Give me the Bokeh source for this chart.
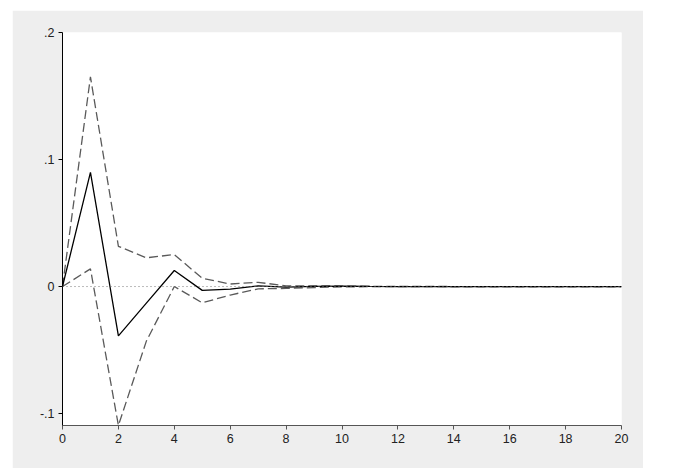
from bokeh.plotting import figure
from bokeh.models import FixedTicker, Span, Range1d
from bokeh.embed import file_html
from bokeh.resources import INLINE

steps = list(range(0, 21))
irf = [0.0, 0.0899, -0.0388, -0.0131, 0.0126, -0.0030, -0.0020, 0.0005, -0.0005, 0.0002,
       0.0003, 0.0001, 0.0, 0.0, 0.0, 0.0, 0.0, 0.0, 0.0, 0.0, 0.0]
upper = [0.0, 0.1650, 0.0317, 0.0226, 0.0252, 0.0065, 0.0020, 0.0033, 0.0006, 0.0005,
         0.0004, 0.0002, 0.0001, 0.0001, 0.0, 0.0, 0.0, 0.0, 0.0, 0.0, 0.0]
lower = [0.0, 0.0139, -0.1094, -0.0430, 0.0000, -0.0128, -0.0067, -0.0018, -0.0015, -0.0008,
         -0.0003, -0.0001, -0.0001, 0.0, 0.0, 0.0, 0.0, 0.0, 0.0, 0.0, 0.0]
y_ticks = [-0.1, 0.0, 0.1, 0.2]
y_tick_labels = {-0.1: "-.1", 0.0: "0", 0.1: ".1", 0.2: ".2"}
x_ticks = list(range(0, 21, 2))

p = figure(width=631, height=458, output_backend="svg", toolbar_location=None,
           x_range=Range1d(0, 20), y_range=Range1d(-0.1094, 0.2),
           min_border_left=50, min_border_right=22, min_border_top=22, min_border_bottom=43,
           background_fill_color="white", border_fill_color="#eeeeee")
p.margin = (10, 0, 0, 12)
p.outline_line_color = None
p.grid.visible = False

p.add_layout(Span(location=0, dimension="width", line_color="#777777",
                  line_dash="1 3", line_width=1))

p.line(steps, upper, line_color="#5a5a5a", line_width=1.3, line_dash="9 4")
p.line(steps, lower, line_color="#5a5a5a", line_width=1.3, line_dash="9 4")
p.line(steps, irf, line_color="black", line_width=1.3)

p.xaxis.ticker = FixedTicker(ticks=x_ticks)
p.yaxis.ticker = FixedTicker(ticks=y_ticks)
p.yaxis.major_label_overrides = y_tick_labels
p.yaxis.major_label_orientation = "horizontal"

for ax in (p.xaxis[0], p.yaxis[0]):
    ax.minor_tick_line_color = None
    ax.major_tick_out = 4
    ax.major_tick_in = 0
    ax.major_label_text_font = "Liberation Sans"
    ax.major_label_text_font_size = "12.5px"
    ax.major_label_text_color = "#222222"
    ax.major_label_standoff = 4

p.yaxis.axis_line_color = "black"
p.yaxis.major_tick_line_color = "black"
p.xaxis.axis_line_color = "#555555"
p.xaxis.major_tick_line_color = "#555555"

open("out.html", "w").write(file_html(p, INLINE))
